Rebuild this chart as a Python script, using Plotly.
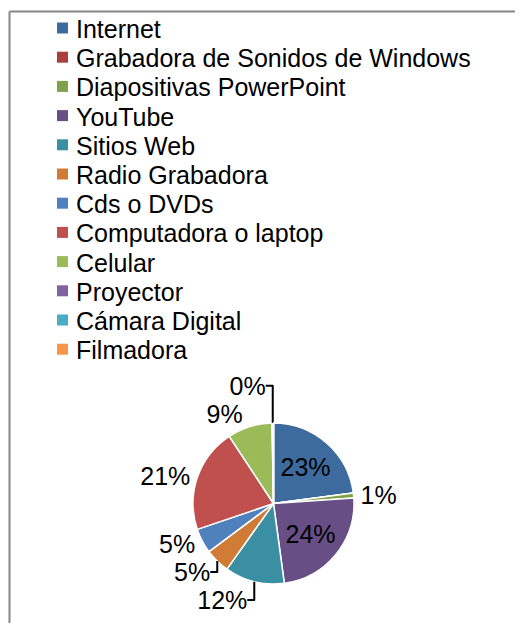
import plotly.graph_objects as go

categories = ["Internet", "Grabadora de Sonidos de Windows", "Diapositivas PowerPoint",
              "YouTube", "Sitios Web", "Radio Grabadora", "Cds o DVDs",
              "Computadora o laptop", "Celular", "Proyector", "Cámara Digital", "Filmadora"]
values = [23, 0, 1, 24, 12, 5, 5, 21, 9, 0.3, 0, 0]
colors = ["#3E6B9D", "#A9403E", "#82A04A", "#674F86", "#3B8FA3", "#D07C37",
          "#4F81BD", "#C0504D", "#9BBB59", "#8064A2", "#4BACC6", "#F79646"]
text_positions = ["inside", "outside", "outside", "inside", "outside", "outside", "outside",
                  "outside", "outside", "outside", "outside", "outside"]

W, H = 523, 623
OFF = 8  # page body margin


def px(x):
    return (x - OFF) / W


def py(y):
    return 1 - (y - OFF) / H


FONT = "Liberation Sans, Arial, sans-serif"

fig = go.Figure()
fig.add_trace(go.Pie(
    labels=categories,
    values=values,
    sort=False,
    direction="clockwise",
    rotation=0,
    marker=dict(colors=colors, line=dict(color="white", width=1.5)),
    texttemplate=["%{percent:.0%}" if v > 0 else "" for v in values],
    textposition=text_positions,
    textfont=dict(family=FONT, size=25, color="black"),
    insidetextfont=dict(family=FONT, size=25, color="black"),
    outsidetextfont=dict(family=FONT, size=25, color="black"),
    domain=dict(x=[px(193), px(354)], y=[py(584), py(423)]),
    showlegend=False,
    hoverinfo="label+percent",
))

# manual legend
for i, (name, col) in enumerate(zip(categories, colors)):
    yc = 28 + 29.2 * i
    fig.add_shape(type="rect", xref="paper", yref="paper",
                  x0=px(57), x1=px(68), y0=py(yc + 5.5), y1=py(yc - 5.5),
                  fillcolor=col, line=dict(width=0))
    fig.add_annotation(xref="paper", yref="paper", x=px(74), y=py(yc + 1),
                       xanchor="left", yanchor="middle", showarrow=False,
                       text=name, font=dict(family=FONT, size=25, color="black"))

# frame
fig.add_shape(type="line", xref="paper", yref="paper",
              x0=px(9.5), x1=px(9.5), y0=-0.05, y1=py(11.5),
              line=dict(color="#868686", width=2))
fig.add_shape(type="line", xref="paper", yref="paper",
              x0=px(9.5), x1=1.05, y0=py(11.5), y1=py(11.5),
              line=dict(color="#868686", width=2))

fig.update_layout(
    width=W, height=H,
    margin=dict(l=0, r=0, t=0, b=0),
    paper_bgcolor="white",
    plot_bgcolor="white",
    font=dict(family=FONT, size=25, color="black"),
    showlegend=False,
)

fig.write_html("out.html")
